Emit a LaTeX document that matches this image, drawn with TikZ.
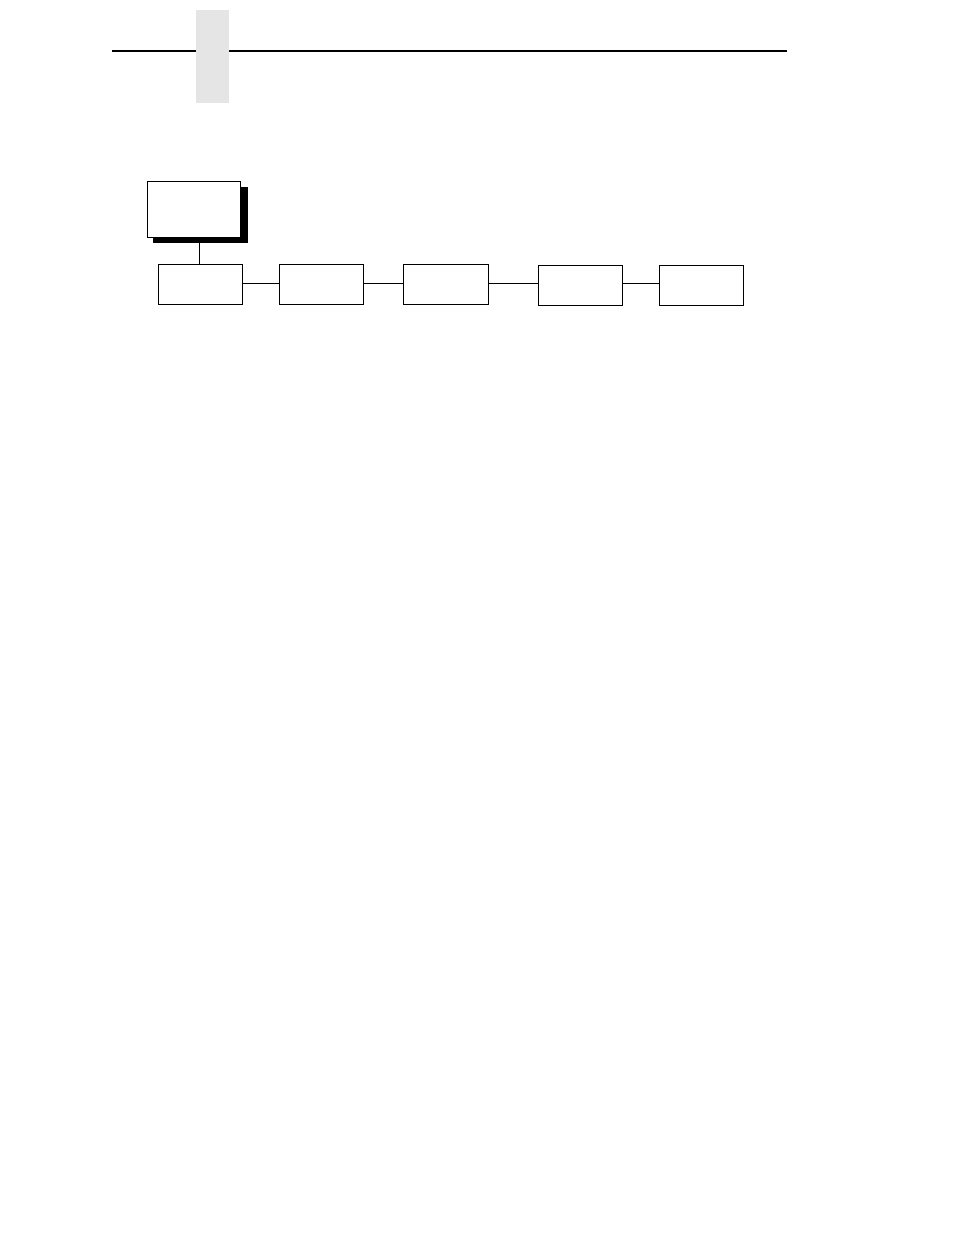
\documentclass[tikz,border=0pt]{standalone}
\begin{document}
\begin{tikzpicture}[x=1pt,y=-1pt,
  menubox/.style={draw=black,line width=1.1pt,fill=white,inner sep=0pt,outer sep=0pt,anchor=north west},
  link/.style={draw=black,line width=1.1pt}]
\useasboundingbox (0,0) rectangle (954,1235);
\fill[white] (0,0) rectangle (954,1235);
% header tab and rule
\fill[black!10] (196,10) rectangle (229,103);
\draw[line width=2.4pt] (112,51) -- (196,51);
\draw[line width=2.4pt] (229,51) -- (787,51);
% top menu box with shadow
\fill[black] (153,187) rectangle (248,243);
\node[menubox,minimum width=93pt,minimum height=56pt] (top) at (147.5,181.5) {};
% row of boxes
\node[menubox,minimum width=84pt,minimum height=40pt] (b1) at (158.5,264.5) {};
\node[menubox,minimum width=84pt,minimum height=40pt] (b2) at (279.5,264.5) {};
\node[menubox,minimum width=85pt,minimum height=40pt] (b3) at (403.5,264.5) {};
\node[menubox,minimum width=84pt,minimum height=40pt] (b4) at (538.5,265.5) {};
\node[menubox,minimum width=84pt,minimum height=40pt] (b5) at (659.5,265.5) {};
\coordinate (topfoot) at (199.5,243);
\draw[link] (topfoot) -- (topfoot |- b1.north);
\draw[link] (b1.east |- 0,283.5) -- (b2.west |- 0,283.5);
\draw[link] (b2.east |- 0,283.5) -- (b3.west |- 0,283.5);
\draw[link] (b3.east |- 0,283.5) -- (b4.west |- 0,283.5);
\draw[link] (b4.east |- 0,283.5) -- (b5.west |- 0,283.5);
\end{tikzpicture}
\end{document}
